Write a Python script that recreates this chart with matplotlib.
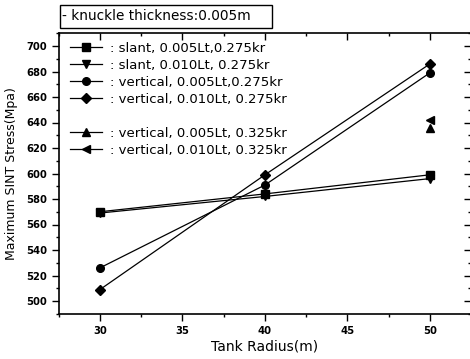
import matplotlib
matplotlib.use("Agg")
import matplotlib.pyplot as plt
from matplotlib.lines import Line2D
from matplotlib.patches import Rectangle

plt.rcParams['font.family'] = ['DejaVu Sans']

radius = [30, 40, 50]
slant_005_275 = [570, 584, 599]
slant_010_275 = [569, 582, 596]
vert_005_275 = [526, 591, 679]
vert_010_275 = [509, 599, 686]
radius_325 = [50]
vert_005_325 = [636]
vert_010_325 = [642]

labels = [": slant, 0.005Lt,0.275kr",
          ": slant, 0.010Lt, 0.275kr",
          ": vertical, 0.005Lt,0.275kr",
          ": vertical, 0.010Lt, 0.275kr",
          ": vertical, 0.005Lt, 0.325kr",
          ": vertical, 0.010Lt, 0.325kr"]
box_text = "- knuckle thickness:0.005m"
xlabel = "Tank Radius(m)"
ylabel = "Maximum SINT Stress(Mpa)"
xticks = [30, 35, 40, 45, 50]
yticks = [500, 520, 540, 560, 580, 600, 620, 640, 660, 680, 700]

W, H = 470, 359
fig = plt.figure(figsize=(W / 100, H / 100), dpi=100)
ax = fig.add_axes([58.75 / W, (H - 313.75) / H, 412.5 / W, 280.5 / H])

kw = dict(color='black', lw=0.9, markersize=5.5)
h1, = ax.plot(radius, slant_005_275, marker='s', **kw)
h2, = ax.plot(radius, slant_010_275, marker='v', **kw)
h3, = ax.plot(radius, vert_005_275, marker='o', **kw)
h4, = ax.plot(radius, vert_010_275, marker='D', markersize=5, color='black', lw=0.9)
h5, = ax.plot(radius_325, vert_005_325, marker='^', **kw)
h6, = ax.plot(radius_325, vert_010_325, marker='<', **kw)
blank = Line2D([], [], color='none')

ax.set_xlim(27.5, 52.5)
ax.set_ylim(490, 710)
ax.set_xticks(xticks)
ax.set_yticks(yticks)
ax.set_xticks([27.5 + 2.5 * i for i in range(11)], minor=True)
ax.set_yticks([490 + 10 * i for i in range(23)], minor=True)
ax.tick_params(which='both', top=True, right=True, labeltop=False, labelright=False,
               width=1, labelsize=7.2, colors='black')
ax.tick_params(which='major', length=5)
ax.tick_params(which='minor', length=2.5)
for lab in ax.get_xticklabels() + ax.get_yticklabels():
    lab.set_fontweight('bold')
for s in ax.spines.values():
    s.set_linewidth(1.2)

# top/right ticks inward
for t in ax.xaxis.get_major_ticks() + ax.xaxis.get_minor_ticks():
    t.tick2line.set_marker(3)  # TICKDOWN
for t in ax.yaxis.get_major_ticks() + ax.yaxis.get_minor_ticks():
    t.tick2line.set_marker(0)  # TICKLEFT

ax.set_xlabel(xlabel, fontsize=10, labelpad=3)
ax.set_ylabel(ylabel, fontsize=9, labelpad=6)

leg = fig.legend([h1, h2, h3, h4, blank, h5, h6],
                 labels[:4] + [""] + labels[4:],
                 loc='upper left', bbox_to_anchor=(70 / W, (H - 42) / H),
                 frameon=False, fontsize=9.5, handlelength=2.4, handletextpad=0.6,
                 labelspacing=0.3, borderpad=0, borderaxespad=0)

fig.patches.append(Rectangle((60 / W, (H - 28) / H), 212 / W, 23 / H,
                             transform=fig.transFigure, fill=False,
                             edgecolor='black', lw=1))
fig.text(62 / W, (H - 16.5) / H, box_text, fontsize=9.8, va='center', ha='left')

fig.savefig("out.png", dpi=100)
